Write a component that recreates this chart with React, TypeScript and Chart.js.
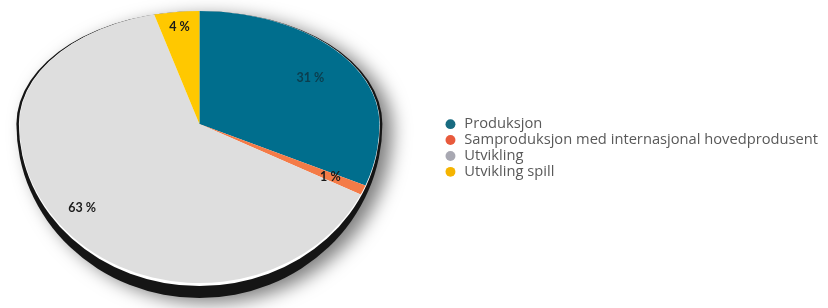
import React, { useEffect, useRef } from 'react';
import { Chart, ArcElement, PieController, Legend } from 'chart.js';

Chart.register(ArcElement, PieController, Legend);

const categories = [
  'Produksjon',
  'Samproduksjon med internasjonal hovedprodusent',
  'Utvikling',
  'Utvikling spill',
];
const shares = [31, 1, 63, 4];
const valueLabels = shares.map((v) => `${v} %`);
const sliceColors = ['#006E8D', '#F47B47', '#DEDEDE', '#FFC800'];
const legendColors = ['#186B80', '#E85A3C', '#A8A8B2', '#F5B400'];
const labelColors = ['#0B3E4E', '#1A1A1A', '#1A1A1A', '#1A1A1A'];
const labelRadius = [0.74, 0.8, 0.84, 0.87];

const TOP_SCALE = 113 / 180;
const BOTTOM_SCALE = 159 / 180;
const AREA_SHIFT = 44;

const tiltPlugin = {
  id: 'tilt',
  afterLayout(chart: any) {
    chart.chartArea.left -= AREA_SHIFT;
    chart.chartArea.width += AREA_SHIFT;
  },
  beforeDatasetsDraw(chart: any) {
    const meta = chart.getDatasetMeta(0);
    const arcs = meta.data;
    if (!arcs.length) return false;
    const { x: cx, y: cy, outerRadius: r } = arcs[0].getProps(['x', 'y', 'outerRadius'], true);
    const ctx: CanvasRenderingContext2D = chart.ctx;
    const shape = (rx: number, ryTop: number, ryBot: number) => {
      ctx.beginPath();
      ctx.ellipse(cx, cy, rx, ryTop, 0, Math.PI, 2 * Math.PI);
      ctx.ellipse(cx, cy, rx, ryBot, 0, 0, Math.PI);
      ctx.closePath();
    };
    // dark rim with soft shadow
    ctx.save();
    ctx.shadowColor = 'rgba(0,0,0,0.5)';
    ctx.shadowBlur = 18;
    ctx.shadowOffsetX = 10;
    ctx.shadowOffsetY = 5;
    shape(r + 3, r * TOP_SCALE, r * BOTTOM_SCALE + 15);
    ctx.fillStyle = '#151515';
    ctx.fill();
    ctx.restore();
    // light edge
    ctx.save();
    shape(r + 0.5, r * TOP_SCALE, r * BOTTOM_SCALE + 3);
    ctx.fillStyle = '#FFFFFF';
    ctx.fill();
    ctx.restore();
    // faces: upper and lower halves squeezed differently
    const halves = [
      { y0: 0, y1: cy + 0.5, s: TOP_SCALE },
      { y0: cy - 0.5, y1: chart.height, s: BOTTOM_SCALE },
    ];
    halves.forEach((h) => {
      ctx.save();
      ctx.beginPath();
      ctx.rect(0, h.y0, chart.width, h.y1 - h.y0);
      ctx.clip();
      ctx.translate(cx, cy);
      ctx.scale(1, h.s);
      ctx.translate(-cx, -cy);
      arcs.forEach((a: any) => a.draw(ctx, chart.chartArea));
      ctx.restore();
    });
    return false;
  },
  afterDraw(chart: any) {
    const meta = chart.getDatasetMeta(0);
    const ctx: CanvasRenderingContext2D = chart.ctx;
    ctx.save();
    ctx.font = "bold 12.5px Lato, 'Open Sans', sans-serif";
    ctx.textAlign = 'center';
    ctx.textBaseline = 'middle';
    meta.data.forEach((a: any, i: number) => {
      const { x, y, startAngle, endAngle, outerRadius } = a.getProps(
        ['x', 'y', 'startAngle', 'endAngle', 'outerRadius'],
        true
      );
      const mid = (startAngle + endAngle) / 2;
      const ux = Math.cos(mid);
      const uy = Math.sin(mid);
      const s = uy < 0 ? TOP_SCALE : BOTTOM_SCALE;
      const f = labelRadius[i];
      ctx.fillStyle = labelColors[i];
      ctx.fillText(valueLabels[i], x + outerRadius * f * ux, y + outerRadius * f * uy * s);
    });
    ctx.restore();
  },
};

export default function App() {
  const canvasRef = useRef<HTMLCanvasElement | null>(null);

  useEffect(() => {
    if (!canvasRef.current) return;
    const chart = new Chart(canvasRef.current, {
      type: 'pie',
      data: {
        labels: categories,
        datasets: [
          {
            data: shares,
            backgroundColor: sliceColors,
            borderWidth: 0,
          },
        ],
      },
      options: {
        animation: false,
        responsive: false,
        devicePixelRatio: 1,
        radius: 180,
        layout: { padding: { left: 0, right: 0, top: 0, bottom: 60 } },
        plugins: {
          tooltip: { enabled: false },
          legend: {
            position: 'right',
            align: 'center',
            title: { display: true, text: '', padding: { top: 38, bottom: 0 }, font: { size: 10, lineHeight: 1 } },
            labels: {
              usePointStyle: true,
              pointStyle: 'circle',
              boxWidth: 13,
              boxHeight: 7,
              padding: 1.2,
              color: '#595959',
              font: { family: "'Open Sans', sans-serif", size: 14.7 },
              generateLabels: () =>
                categories.map((text, i) => ({
                  text,
                  fillStyle: legendColors[i],
                  strokeStyle: legendColors[i],
                  lineWidth: 0,
                  pointStyle: 'circle',
                  hidden: false,
                  index: i,
                  fontColor: '#595959',
                })),
            },
          },
        },
      } as any,
      plugins: [tiltPlugin],
    });
    return () => chart.destroy();
  }, []);

  return (
    <div style={{ position: 'fixed', left: 0, top: 0, width: 828, height: 308, background: '#fff' }}>
      <canvas ref={canvasRef} width={828} height={308} style={{ display: 'block' }} />
    </div>
  );
}
